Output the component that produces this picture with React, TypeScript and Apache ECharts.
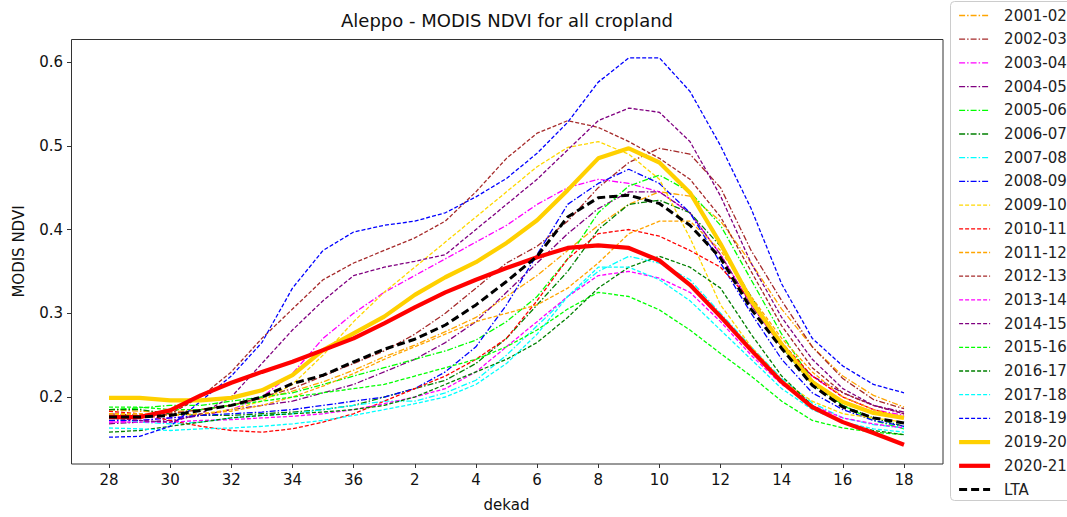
import React, { useEffect, useRef } from "react";
import * as echarts from "echarts";

const dekads = ["28", "29", "30", "31", "32", "33", "34", "35", "36", "1", "2", "3", "4", "5", "6", "7", "8", "9", "10", "11", "12", "13", "14", "15", "16", "17", "18"];

const s2001_02 = [0.185, 0.183, 0.182, 0.185, 0.19, 0.198, 0.207, 0.218, 0.232, 0.248, 0.262, 0.278, 0.295, 0.32, 0.345, 0.375, 0.405, 0.43, 0.445, 0.44, 0.41, 0.36, 0.305, 0.26, 0.225, 0.202, 0.188];
const s2002_03 = [0.18, 0.178, 0.18, 0.185, 0.19, 0.2, 0.21, 0.225, 0.24, 0.255, 0.275, 0.3, 0.33, 0.36, 0.38, 0.41, 0.45, 0.48, 0.497, 0.49, 0.45, 0.375, 0.315, 0.26, 0.222, 0.197, 0.186];
const s2003_04 = [0.17, 0.172, 0.175, 0.178, 0.185, 0.2, 0.228, 0.27, 0.3, 0.325, 0.345, 0.365, 0.385, 0.405, 0.43, 0.45, 0.46, 0.455, 0.445, 0.42, 0.37, 0.31, 0.26, 0.225, 0.2, 0.185, 0.178];
const s2004_05 = [0.168, 0.17, 0.172, 0.178, 0.185, 0.19, 0.195, 0.205, 0.215, 0.23, 0.245, 0.265, 0.29, 0.325, 0.36, 0.395, 0.425, 0.445, 0.445, 0.42, 0.37, 0.31, 0.26, 0.225, 0.205, 0.19, 0.182];
const s2005_06 = [0.185, 0.187, 0.19, 0.19, 0.195, 0.2, 0.205, 0.215, 0.225, 0.235, 0.245, 0.255, 0.268, 0.29, 0.32, 0.365, 0.42, 0.452, 0.465, 0.445, 0.405, 0.34, 0.275, 0.22, 0.19, 0.172, 0.162];
const s2006_07 = [0.185, 0.185, 0.18, 0.178, 0.178, 0.18, 0.182, 0.185, 0.19, 0.2, 0.21, 0.22, 0.24, 0.27, 0.31, 0.35, 0.4, 0.43, 0.435, 0.42, 0.38, 0.32, 0.26, 0.215, 0.19, 0.175, 0.165];
const s2007_08 = [0.175, 0.17, 0.168, 0.17, 0.175, 0.178, 0.18, 0.185, 0.19, 0.195, 0.195, 0.205, 0.22, 0.25, 0.285, 0.32, 0.35, 0.368, 0.36, 0.34, 0.3, 0.26, 0.222, 0.193, 0.175, 0.167, 0.163];
const s2008_09 = [0.172, 0.172, 0.175, 0.178, 0.18, 0.182, 0.185, 0.19, 0.195, 0.2, 0.21, 0.23, 0.26, 0.31, 0.37, 0.43, 0.455, 0.472, 0.455, 0.42, 0.36, 0.3, 0.245, 0.205, 0.185, 0.172, 0.165];
const s2009_10 = [0.18, 0.178, 0.178, 0.18, 0.185, 0.195, 0.215, 0.25, 0.29, 0.325, 0.355, 0.385, 0.415, 0.445, 0.475, 0.498, 0.505, 0.49, 0.46, 0.39, 0.31, 0.26, 0.22, 0.195, 0.18, 0.175, 0.17];
const s2010_11 = [0.183, 0.18, 0.172, 0.165, 0.16, 0.158, 0.162, 0.17, 0.18, 0.195, 0.21, 0.225, 0.245, 0.27, 0.315, 0.365, 0.395, 0.4, 0.392, 0.375, 0.355, 0.315, 0.265, 0.225, 0.2, 0.185, 0.175];
const s2011_12 = [0.18, 0.18, 0.178, 0.18, 0.183, 0.19, 0.2, 0.213, 0.228, 0.245, 0.26, 0.275, 0.29, 0.3, 0.31, 0.33, 0.36, 0.395, 0.41, 0.41, 0.375, 0.32, 0.27, 0.23, 0.2, 0.185, 0.175];
const s2012_13 = [0.178, 0.175, 0.18, 0.2, 0.23, 0.27, 0.305, 0.34, 0.36, 0.375, 0.39, 0.41, 0.445, 0.485, 0.515, 0.53, 0.522, 0.505, 0.485, 0.46, 0.415, 0.35, 0.285, 0.235, 0.205, 0.19, 0.18];
const s2013_14 = [0.17, 0.17, 0.17, 0.172, 0.173, 0.175, 0.177, 0.18, 0.185, 0.192, 0.2, 0.21, 0.23, 0.26, 0.29, 0.32, 0.345, 0.35, 0.342, 0.325, 0.29, 0.25, 0.215, 0.19, 0.175, 0.168, 0.163];
const s2014_15 = [0.175, 0.172, 0.17, 0.18, 0.2, 0.24, 0.28, 0.315, 0.345, 0.355, 0.362, 0.37, 0.4, 0.43, 0.46, 0.495, 0.53, 0.545, 0.54, 0.505, 0.44, 0.36, 0.295, 0.245, 0.21, 0.19, 0.18];
const s2015_16 = [0.188, 0.188, 0.185, 0.185, 0.19, 0.195, 0.2, 0.205, 0.21, 0.215, 0.225, 0.235, 0.245, 0.26, 0.28, 0.305, 0.325, 0.32, 0.304, 0.28, 0.252, 0.225, 0.195, 0.172, 0.163, 0.158, 0.155];
const s2016_17 = [0.158, 0.16, 0.165, 0.17, 0.175, 0.178, 0.18, 0.182, 0.185, 0.19, 0.2, 0.215, 0.23, 0.245, 0.265, 0.295, 0.33, 0.355, 0.368, 0.355, 0.33, 0.275, 0.225, 0.19, 0.17, 0.16, 0.155];
const s2017_18 = [0.163, 0.162, 0.16, 0.162, 0.163, 0.165, 0.168, 0.172, 0.178, 0.185, 0.192, 0.2, 0.215, 0.24, 0.275, 0.32, 0.355, 0.355, 0.34, 0.315, 0.28, 0.245, 0.21, 0.185, 0.17, 0.162, 0.158];
const s2018_19 = [0.152, 0.153, 0.165, 0.195, 0.225, 0.265, 0.33, 0.375, 0.397, 0.405, 0.41, 0.42, 0.439, 0.461, 0.491, 0.528, 0.576, 0.605, 0.605, 0.565, 0.5, 0.425, 0.335, 0.27, 0.237, 0.215, 0.205];
const s2019_20 = [0.199, 0.199, 0.196, 0.196, 0.199, 0.208, 0.226, 0.256, 0.276, 0.296, 0.322, 0.343, 0.361, 0.384, 0.411, 0.447, 0.485, 0.497, 0.48, 0.444, 0.383, 0.315, 0.263, 0.218, 0.194, 0.181, 0.175];
const s2020_21 = [0.176, 0.176, 0.184, 0.202, 0.217, 0.23, 0.242, 0.256, 0.27, 0.288, 0.307, 0.325, 0.34, 0.354, 0.367, 0.378, 0.381, 0.378, 0.363, 0.334, 0.296, 0.256, 0.218, 0.188, 0.17, 0.157, 0.143];
const lta = [0.176, 0.176, 0.178, 0.184, 0.19, 0.2, 0.216, 0.226, 0.242, 0.257, 0.269, 0.286, 0.31, 0.338, 0.368, 0.415, 0.438, 0.441, 0.431, 0.405, 0.366, 0.305, 0.258, 0.214, 0.188, 0.175, 0.169];

const seriesNames = ["2001-02", "2002-03", "2003-04", "2004-05", "2005-06", "2006-07", "2007-08", "2008-09", "2009-10", "2010-11", "2011-12", "2012-13", "2013-14", "2014-15", "2015-16", "2016-17", "2017-18", "2018-19", "2019-20", "2020-21", "LTA"];
const seriesData = [s2001_02, s2002_03, s2003_04, s2004_05, s2005_06, s2006_07, s2007_08, s2008_09, s2009_10, s2010_11, s2011_12, s2012_13, s2013_14, s2014_15, s2015_16, s2016_17, s2017_18, s2018_19, s2019_20, s2020_21, lta];

const seriesColors = ["#FFA500", "#A52A2A", "#FF00FF", "#800080", "#00FF00", "#008000", "#00FFFF", "#0000FF", "#FFD700", "#FF0000", "#FFA500", "#A52A2A", "#FF00FF", "#800080", "#00FF00", "#008000", "#00FFFF", "#0000FF", "#FFD000", "#FF0000", "#000000"];
const seriesKinds = ["dashdot", "dashdot", "dashdot", "dashdot", "dashdot", "dashdot", "dashdot", "dashdot", "dashed", "dashed", "dashed", "dashed", "dashed", "dashed", "dashed", "dashed", "dashed", "dashed", "bold", "bold", "lta"];

const FONT = "DejaVu Sans";

function lineStyleFor(kind: string, color: string) {
  if (kind === "dashdot") return { color, width: 1.3, type: [6, 2, 1.5, 2] };
  if (kind === "dashed") return { color, width: 1.3, type: [4, 2] };
  if (kind === "bold") return { color, width: 4.2, type: "solid" };
  return { color, width: 3, type: [8, 4] };
}

export default function App() {
  const ref = useRef<HTMLDivElement>(null);
  useEffect(() => {
    if (!ref.current) return;
    const chart = echarts.init(ref.current, undefined, { renderer: "svg" });
    const series = seriesNames.map((name, i) => ({
      name,
      type: "line",
      data: seriesData[i],
      symbol: "none",
      showSymbol: false,
      smooth: false,
      lineStyle: lineStyleFor(seriesKinds[i], seriesColors[i]),
      itemStyle: { color: seriesColors[i] },
      z: seriesKinds[i] === "bold" || seriesKinds[i] === "lta" ? 5 : 2,
    }));
    const legendData = seriesNames.map((name, i) => {
      const ls = lineStyleFor(seriesKinds[i], seriesColors[i]);
      return { name, lineStyle: { width: ls.width, type: ls.type, color: ls.color } };
    });
    chart.setOption({
      animation: false,
      backgroundColor: "#ffffff",
      textStyle: { fontFamily: FONT },
      grid: { left: 109, right: 163, top: 39, bottom: 53, containLabel: false, outerBoundsMode: "none" },
      xAxis: {
        type: "category",
        data: dekads,
        boundaryGap: false,
        name: "dekad",
        nameLocation: "middle",
        nameGap: 33,
        nameTextStyle: { fontSize: 15, color: "#111", fontFamily: FONT },
        axisLine: { show: false },
        axisTick: { show: true, interval: 1, length: 4, alignWithLabel: true, lineStyle: { color: "#333" } },
        axisLabel: { interval: 1, fontSize: 15, color: "#111", margin: 8, fontFamily: FONT },
        splitLine: { show: false },
      },
      yAxis: {
        type: "value",
        min: 0.12,
        max: 0.6275,
        offset: 38,
        name: "MODIS NDVI",
        nameLocation: "middle",
        nameGap: 45,
        nameTextStyle: { fontSize: 15, color: "#111", fontFamily: FONT },
        axisLine: { show: false },
        axisTick: { show: true, length: 4, lineStyle: { color: "#333" } },
        axisLabel: { fontSize: 15, color: "#111", margin: 8, showMinLabel: false, showMaxLabel: false, fontFamily: FONT },
        splitLine: { show: false },
      },
      legend: {
        orient: "vertical",
        left: 957,
        top: 8,
        padding: 0,
        itemWidth: 31,
        itemHeight: 14,
        itemGap: 8.7,
        data: legendData,
        itemStyle: { opacity: 0 },
        textStyle: { fontSize: 15, color: "#222", fontFamily: FONT, padding: [0, 0, 0, 9] },
      },
      graphic: [
        {
          type: "rect",
          silent: true,
          z: 0,
          shape: { x: 71.5, y: 39.5, width: 871.5, height: 424.5 },
          style: { fill: "none", stroke: "#333", lineWidth: 1 },
        },
        {
          type: "rect",
          silent: true,
          z: 0,
          shape: { x: 950.5, y: 1.5, width: 140, height: 499, r: 4 },
          style: { fill: "#fff", stroke: "#cccccc", lineWidth: 1 },
        },
        {
          type: "text",
          x: 507,
          y: 20,
          style: {
            text: "Aleppo - MODIS NDVI for all cropland",
            fontSize: 18,
            fontFamily: FONT,
            fill: "#111",
            textAlign: "center",
            textVerticalAlign: "middle",
          },
        },
      ],
      series,
    });
    return () => chart.dispose();
  }, []);
  return <div ref={ref} style={{ width: 1067, height: 517, position: "absolute", left: 0, top: 0 }} />;
}
